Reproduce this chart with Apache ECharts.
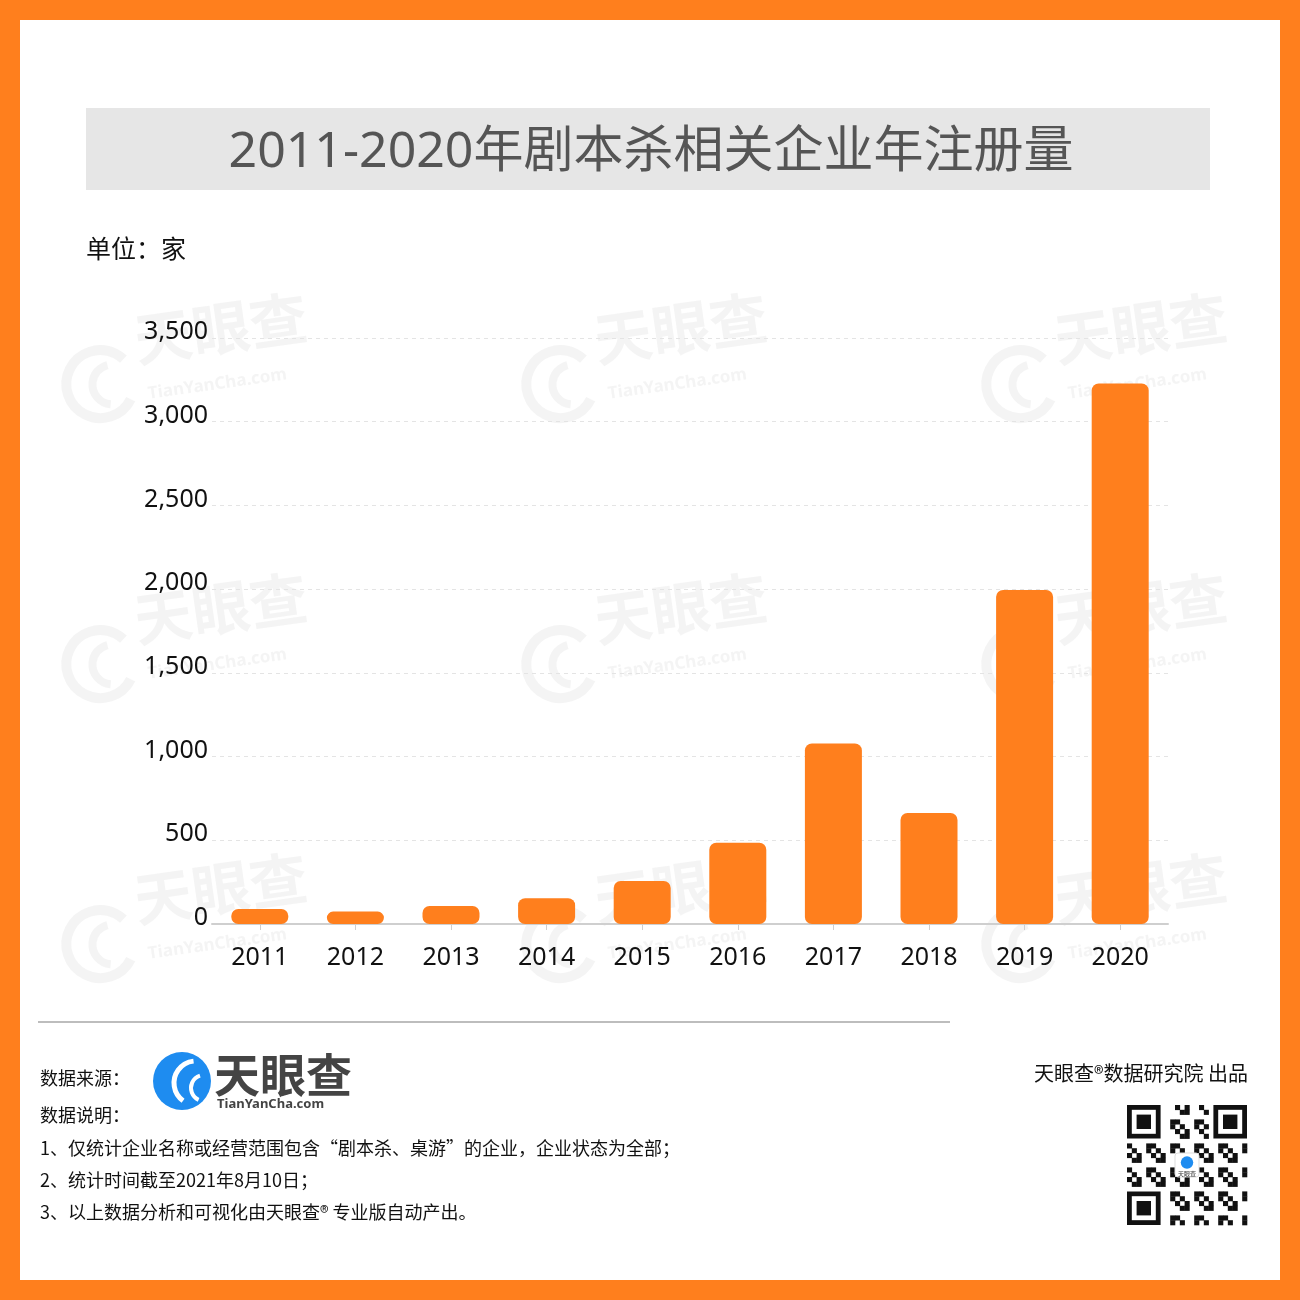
<!DOCTYPE html>
<html><head><meta charset="utf-8">
<script src="https://cdn.jsdelivr.net/npm/echarts@6/dist/echarts.min.js"></script>
<style>html,body{margin:0;padding:0;background:#fff}#c{width:1300px;height:1300px}</style>
</head><body><div id="c"></div>
<script>
const title = '2011-2020年剧本杀相关企业年注册量';
const unitLabel = '单位：家';
const years = ['2011','2012','2013','2014','2015','2016','2017','2018','2019','2020'];
const counts = [90, 74, 108, 154, 257, 485, 1078, 663, 1995, 3228];
const yTicks = {min: 0, max: 3500, interval: 500};
const notes = [
  '数据说明：',
  '1、仅统计企业名称或经营范围包含“剧本杀、桌游”的企业，企业状态为全部；',
  '2、统计时间截至2021年8月10日；',
  '3、以上数据分析和可视化由天眼查® 专业版自动产出。'
];

const FONT = '"Noto Sans","Noto Sans CJK SC",sans-serif';
const CJK = '"Noto Sans CJK SC","Noto Sans",sans-serif';
const ORANGE = '#FF7F1D';

const chart = echarts.init(document.getElementById('c'), null, {renderer: 'canvas'});

function watermark(x, y) {
  const c = 'rgba(215,215,215,0.28)';
  return {
    type: 'group', x: x, y: y, rotation: 0.14, z: 100, silent: true,
    children: [
      {type: 'arc', shape: {cx: 38, cy: 62, r: 34, startAngle: 0.6, endAngle: 5.6}, style: {fill: 'none', stroke: c, lineWidth: 10}},
      {type: 'arc', shape: {cx: 50, cy: 64, r: 20, startAngle: 1.8, endAngle: 4.6}, style: {fill: 'none', stroke: c, lineWidth: 8}},
      {type: 'text', x: 78, y: 0, style: {text: '天眼查', font: 'bold 58px ' + FONT, fill: c}},
      {type: 'text', x: 84, y: 70, style: {text: 'TianYanCha.com', font: 'bold 17px ' + FONT, fill: c}}
    ]
  };
}
const wmarks = [];
[[54, 328], [514, 328], [974, 328], [54, 608], [514, 608], [974, 608], [54, 888], [514, 888], [974, 888]]
  .forEach(p => wmarks.push(watermark(p[0], p[1])));

function qrBlock(x0, y0, size) {
  const n = 25, m = size / n;
  const kids = [{type: 'rect', shape: {x: x0, y: y0, width: size, height: size}, style: {fill: '#fff'}}];
  function finder(fx, fy) {
    kids.push({type: 'rect', shape: {x: x0 + fx * m, y: y0 + fy * m, width: 7 * m, height: 7 * m}, style: {fill: '#111'}});
    kids.push({type: 'rect', shape: {x: x0 + (fx + 1) * m, y: y0 + (fy + 1) * m, width: 5 * m, height: 5 * m}, style: {fill: '#fff'}});
    kids.push({type: 'rect', shape: {x: x0 + (fx + 2) * m, y: y0 + (fy + 2) * m, width: 3 * m, height: 3 * m}, style: {fill: '#111'}});
  }
  for (let i = 0; i < n; i++) for (let j = 0; j < n; j++) {
    const inF = (i < 8 && j < 8) || (i < 8 && j > 16) || (i > 16 && j < 8);
    const inC = i > 9 && i < 15 && j > 9 && j < 15;
    if (inF || inC) continue;
    if (((i * 7 + j * 13 + i * j) % 5) < 2) {
      kids.push({type: 'rect', shape: {x: x0 + j * m, y: y0 + i * m, width: m + 0.3, height: m + 0.3}, style: {fill: '#111'}});
    }
  }
  finder(0, 0); finder(18, 0); finder(0, 18);
  kids.push({type: 'rect', shape: {x: x0 + 10 * m, y: y0 + 10 * m, width: 5 * m, height: 5 * m, r: 3}, style: {fill: '#fff', stroke: '#ddd'}});
  kids.push({type: 'circle', shape: {cx: x0 + 12.5 * m, cy: y0 + 12 * m, r: 1.3 * m}, style: {fill: '#1E8CF0'}});
  kids.push({type: 'text', x: x0 + 12.5 * m, y: y0 + 13.6 * m, style: {text: '天眼查', font: '6px ' + CJK, fill: '#333', align: 'center'}});
  return {type: 'group', children: kids};
}

const option = {
  backgroundColor: ORANGE,
  animation: false,
  textStyle: {fontFamily: FONT},
  grid: {left: 212, right: 132, top: 338, bottom: 376, containLabel: false},
  xAxis: {
    type: 'category', data: years,
    axisLine: {lineStyle: {color: '#cfcfcf', width: 2}},
    axisTick: {show: true, alignWithLabel: true, length: 6, lineStyle: {color: '#cfcfcf'}},
    axisLabel: {color: '#111', fontSize: 25, margin: 21, fontFamily: FONT}
  },
  yAxis: {
    type: 'value', min: yTicks.min, max: yTicks.max, interval: yTicks.interval,
    axisLine: {show: false}, axisTick: {show: false},
    splitLine: {lineStyle: {color: '#e4e4e4', type: [4, 4], width: 1}},
    axisLabel: {color: '#111', fontSize: 25, margin: 4, fontFamily: FONT,
      verticalAlign: 'bottom', lineHeight: 12,
      formatter: v => v.toLocaleString('en-US')}
  },
  series: [{
    type: 'bar', data: counts, barWidth: 57,
    itemStyle: {color: ORANGE, borderRadius: [7, 7, 7, 7]}
  }],
  graphic: [
    {type: 'rect', z: -10, shape: {x: 20, y: 20, width: 1260, height: 1260}, style: {fill: '#fff'}},
    {type: 'rect', z: -5, shape: {x: 86, y: 108, width: 1124, height: 82}, style: {fill: '#E6E6E6'}},
    {type: 'text', x: 651, y: 153, style: {text: title, font: '50px ' + FONT, fill: '#555', align: 'center', verticalAlign: 'middle'}},
    {type: 'text', x: 86, y: 248, style: {text: unitLabel, font: '25px ' + CJK, fill: '#111', verticalAlign: 'middle'}},
    {type: 'line', shape: {x1: 38, y1: 1022, x2: 950, y2: 1022}, style: {stroke: '#bdbdbd', lineWidth: 2}},
    {type: 'text', x: 40, y: 1078, style: {text: '数据来源：', font: '18px ' + CJK, fill: '#111', verticalAlign: 'middle'}},
    {type: 'circle', shape: {cx: 182, cy: 1081, r: 29}, style: {fill: '#1E8CF0'}},
    {type: 'arc', shape: {cx: 196, cy: 1083, r: 22, startAngle: 2.2, endAngle: 4.6}, style: {stroke: '#fff', lineWidth: 5, fill: 'none'}},
    {type: 'arc', shape: {cx: 204, cy: 1088, r: 13, startAngle: 2.0, endAngle: 4.4}, style: {stroke: '#fff', lineWidth: 4, fill: 'none'}},
    {type: 'text', x: 214, y: 1075, style: {text: '天眼查', font: 'bold 46px ' + CJK, fill: '#444', verticalAlign: 'middle'}},
    {type: 'text', x: 217, y: 1104, style: {text: 'TianYanCha.com', font: 'bold 13px ' + FONT, fill: '#444', verticalAlign: 'middle'}},
    {type: 'text', x: 40, y: 1115, style: {text: notes[0], font: '18px ' + CJK, fill: '#111', verticalAlign: 'middle'}},
    {type: 'text', x: 40, y: 1148, style: {text: notes[1], font: '18px ' + CJK, fill: '#111', verticalAlign: 'middle'}},
    {type: 'text', x: 40, y: 1180, style: {text: notes[2], font: '18px ' + CJK, fill: '#111', verticalAlign: 'middle'}},
    {type: 'text', x: 40, y: 1212, style: {text: notes[3], font: '18px ' + CJK, fill: '#111', verticalAlign: 'middle'}},
    {type: 'text', x: 1248, y: 1073, style: {text: '天眼查®数据研究院 出品', font: '20px ' + CJK, fill: '#111', align: 'right', verticalAlign: 'middle'}},
    qrBlock(1127, 1105, 120)
  ].concat(wmarks)
};
chart.setOption(option);
</script>
</body></html>
